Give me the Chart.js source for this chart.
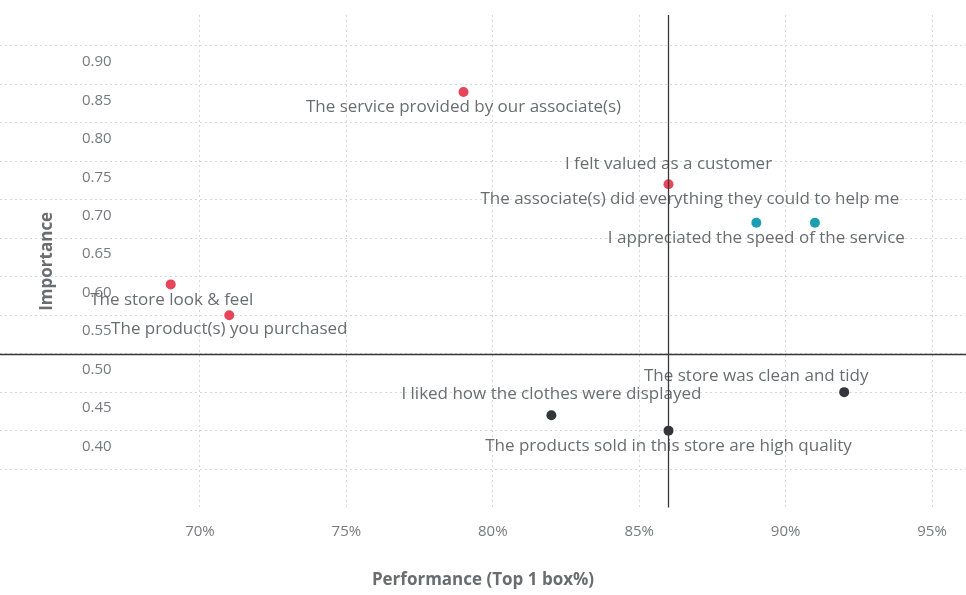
<!DOCTYPE html>
<html>
<head>
<meta charset="utf-8">
<script src="https://cdn.jsdelivr.net/npm/chart.js@4.4.1/dist/chart.umd.min.js"></script>
<style>
  html, body { margin: 0; padding: 0; background: #fff; }
</style>
</head>
<body>
<canvas id="quadrantChart" width="966" height="595"></canvas>
<script>
const STATEMENTS = [
    "The service provided by our associate(s)",
    "I felt valued as a customer",
    "The associate(s) did everything they could to help me",
    "I appreciated the speed of the service",
    "The store look & feel",
    "The product(s) you purchased",
    "The store was clean and tidy",
    "I liked how the clothes were displayed",
    "The products sold in this store are high quality"
];
const PERFORMANCE = [0.79, 0.86, 0.91, 0.89, 0.69, 0.71, 0.92, 0.82, 0.86];
const IMPORTANCE  = [0.84, 0.72, 0.67, 0.67, 0.59, 0.55, 0.45, 0.42, 0.40];
const GROUP       = ['focus', 'focus', 'strength', 'strength', 'focus', 'focus', 'other', 'other', 'other'];

const X_TICKS = [0.70, 0.75, 0.80, 0.85, 0.90, 0.95];
const Y_TICKS = [0.35, 0.40, 0.45, 0.50, 0.55, 0.60, 0.65, 0.70, 0.75, 0.80, 0.85, 0.90];
const PERFORMANCE_CUTOFF = 0.86;
const IMPORTANCE_CUTOFF = 0.50;

// label placement relative to each point (text centre x, baseline y), px
const LABEL_OFFSETS = [
    [0, 20], [0, -15], [-125, -19], [0, 20], [1, 21],
    [0, 19], [-88, -11], [0, -16], [0, 20]
];

const GROUP_COLORS = { focus: '#e8455a', strength: '#1a9fb2', other: '#32363a' };
const TEXT_COLOR = '#6a6d70';
const TICK_COLOR = '#77797c';
const GRID_COLOR = '#d9d9d9';
const FONT = '"Open Sans", sans-serif';

function clearPadding(scale) {
    scale.paddingTop = 0;
    scale.paddingBottom = 0;
    scale.paddingLeft = 0;
    scale.paddingRight = 0;
}

function buildDatasets() {
    return Object.keys(GROUP_COLORS).map(group => ({
        label: group,
        data: PERFORMANCE
            .map((x, i) => ({ x, y: IMPORTANCE[i], i }))
            .filter(p => GROUP[p.i] === group),
        backgroundColor: GROUP_COLORS[group],
        borderWidth: 0,
        pointRadius: 5,
        pointHoverRadius: 5
    }));
}

const overlayPlugin = {
    id: 'overlay',
    afterDatasetsDraw(chart) {
        const { ctx, chartArea, scales: { x, y } } = chart;
        ctx.save();

        // point labels
        ctx.font = `17px ${FONT}`;
        ctx.fillStyle = TEXT_COLOR;
        ctx.textAlign = 'center';
        ctx.textBaseline = 'alphabetic';
        STATEMENTS.forEach((text, i) => {
            const px = x.getPixelForValue(PERFORMANCE[i]) + LABEL_OFFSETS[i][0];
            const py = y.getPixelForValue(IMPORTANCE[i]) + LABEL_OFFSETS[i][1];
            ctx.fillText(text, px, py);
        });

        // quadrant lines
        ctx.strokeStyle = '#38393b';
        ctx.lineWidth = 1.3;
        const vx = Math.round(x.getPixelForValue(PERFORMANCE_CUTOFF)) + 0.5;
        const hy = Math.round(y.getPixelForValue(IMPORTANCE_CUTOFF)) + 0.5;
        ctx.beginPath();
        ctx.moveTo(vx, chartArea.top);
        ctx.lineTo(vx, chartArea.bottom);
        ctx.moveTo(chartArea.left, hy);
        ctx.lineTo(chartArea.right, hy);
        ctx.stroke();

        // y axis title
        ctx.font = `bold 17px ${FONT}`;
        ctx.fillStyle = TEXT_COLOR;
        ctx.textBaseline = 'middle';
        ctx.translate(47, (chartArea.top + chartArea.bottom) / 2);
        ctx.rotate(-Math.PI / 2);
        ctx.fillText('Importance', 0, 0);
        ctx.restore();
    }
};

new Chart(document.getElementById('quadrantChart'), {
    type: 'scatter',
    data: { datasets: buildDatasets() },
    options: {
        responsive: false,
        animation: false,
        layout: { autoPadding: false, padding: { top: 15, left: 0, right: 0, bottom: 0 } },
        plugins: {
            legend: { display: false },
            tooltip: { enabled: false }
        },
        scales: {
            x: {
                type: 'linear',
                min: 0.6317,
                max: 0.9616,
                afterBuildTicks: axis => { axis.ticks = X_TICKS.map(value => ({ value })); },
                afterFit: clearPadding,
                border: { display: false, dash: [2, 3] },
                grid: { color: GRID_COLOR, drawTicks: false },
                ticks: {
                    padding: 15,
                    color: TICK_COLOR,
                    font: { family: FONT, size: 15 },
                    callback: v => Math.round(v * 100) + '%'
                },
                title: {
                    display: true,
                    text: 'Performance (Top 1 box%)',
                    color: TEXT_COLOR,
                    font: { family: FONT, size: 17, weight: 'bold' },
                    padding: { top: 14, bottom: 5 }
                }
            },
            y: {
                type: 'linear',
                min: 0.30,
                max: 0.94,
                afterBuildTicks: axis => { axis.ticks = Y_TICKS.map(value => ({ value })); },
                afterFit: scale => { clearPadding(scale); scale.width = 0; },
                border: { display: false, dash: [2, 3] },
                grid: { color: GRID_COLOR, drawTicks: false },
                ticks: {
                    mirror: true,
                    padding: 82,
                    labelOffset: 16,
                    color: TICK_COLOR,
                    font: { family: FONT, size: 15 },
                    callback: v => v < 0.4 ? '' : v.toFixed(2)
                }
            }
        }
    },
    plugins: [overlayPlugin]
});
</script>
</body>
</html>
